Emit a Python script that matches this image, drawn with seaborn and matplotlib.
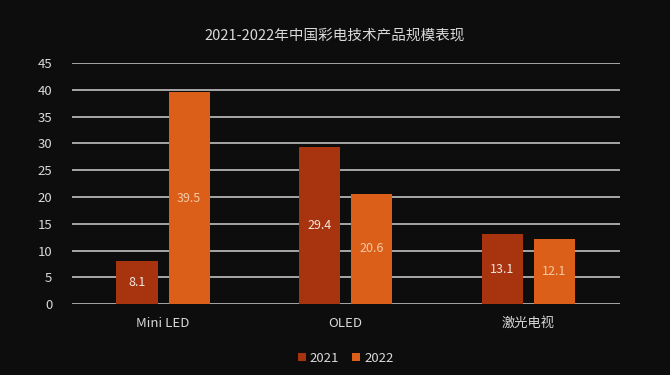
import matplotlib
matplotlib.use("Agg")
import matplotlib.pyplot as plt
import pandas as pd
import seaborn as sns

# --- Data ---
categories = ["Mini LED", "OLED", "激光电视"]
years = ["2021", "2022"]
values_2021 = [8.1, 29.4, 13.1]
values_2022 = [39.5, 20.6, 12.1]

df = pd.DataFrame({
    "category": categories * 2,
    "year": [years[0]] * 3 + [years[1]] * 3,
    "value": values_2021 + values_2022,
})

bg = "#0d0d0d"
text_col = "#d9d9d9"
palette = {"2021": "#a8330f", "2022": "#db5f19"}

sns.set_theme(style="dark")
plt.rcParams["font.family"] = ["Noto Sans CJK SC", "DejaVu Sans"]

fig = plt.figure(figsize=(6.7, 3.75), dpi=100, facecolor=bg)
ax = fig.add_axes([0.107, 0.189, 0.818, 0.643], facecolor=bg)

sns.barplot(data=df, x="category", y="value", hue="year", hue_order=years,
            palette=palette, width=0.57, gap=0.21, saturation=1,
            linewidth=0, ax=ax, zorder=3)

# labels in the middle of each bar
for cont, col in zip(ax.containers, ["#f2e6e0", "#f5c9a3"]):
    for bar, v in zip(cont, cont.datavalues):
        ax.text(bar.get_x() + bar.get_width() / 2, v / 2, f"{v:.1f}",
                ha="center", va="center", fontsize=9, color=col, zorder=4)

ax.set_ylim(0, 45)
ax.set_xlim(-0.5, 2.5)
ax.set_yticks(range(0, 46, 5))
ax.yaxis.grid(True, color="#d0d0d0", linewidth=1.1, zorder=0)
ax.xaxis.grid(False)
for s in ax.spines.values():
    s.set_visible(False)
ax.tick_params(axis="both", length=0, colors=text_col, labelsize=9.5)
ax.tick_params(axis="x", pad=9)
ax.tick_params(axis="y", pad=14)
ax.set_xlabel("")
ax.set_ylabel("")

fig.text(0.5, 0.905, "2021-2022年中国彩电技术产品规模表现", ha="center", va="center",
         fontsize=10.5, color=text_col)

leg = ax.legend(loc="center", bbox_to_anchor=(0.5, -0.225), ncol=2, frameon=False,
                handlelength=0.6, handleheight=0.6, handletextpad=0.3,
                columnspacing=1.0, fontsize=9.5)
for t in leg.get_texts():
    t.set_color(text_col)

fig.savefig("out.png", dpi=100, facecolor=bg)
